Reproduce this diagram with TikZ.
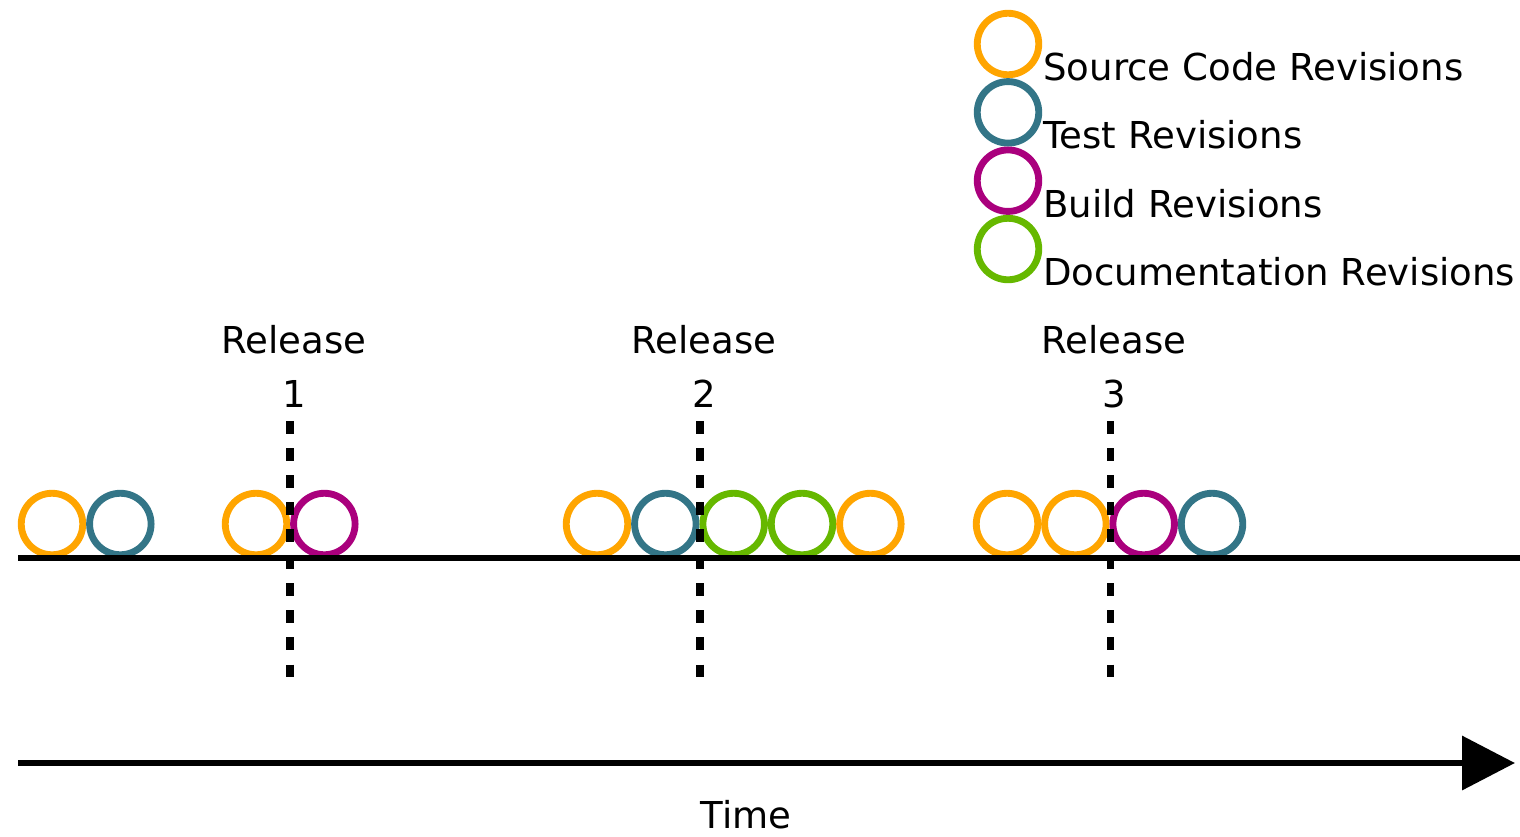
\documentclass[tikz,border=0pt]{standalone}
\usepackage{fontspec}
\setmainfont{DejaVu Sans}
\usetikzlibrary{arrows.meta,positioning}
\definecolor{revsrc}{RGB}{255,165,0}
\definecolor{revtest}{RGB}{51,117,135}
\definecolor{revbuild}{RGB}{170,0,125}
\definecolor{revdoc}{RGB}{102,184,0}
\tikzset{rev/.style={circle,draw=#1,line width=3.9pt,minimum size=1.23cm,inner sep=0pt},
  axis/.style={line width=3.9pt,black},
  release/.style={line width=4pt,dash pattern=on 7.2pt off 8.2pt},
  labeltext/.style={font=\fontsize{21.1}{30.6}\selectfont,align=center,inner sep=0pt}}

\begin{document}
\begin{tikzpicture}[x=0.02cm,y=-0.02cm]
\useasboundingbox (0,0) rectangle (1520,836);
% revisions before release 1
\node[rev=revsrc] (a1) at (52,524) {};
\node[rev=revtest,right=0pt of a1] (a2) {};
\node[rev=revsrc] (b1) at (256,524) {};
\node[rev=revbuild,right=0pt of b1] (b2) {};
% around release 2
\node[rev=revsrc] (c1) at (597,524) {};
\node[rev=revtest,right=0pt of c1] (c2) {};
\node[rev=revdoc,right=0pt of c2] (c3) {};
\node[rev=revdoc,right=0pt of c3] (c4) {};
\node[rev=revsrc,right=0pt of c4] (c5) {};
% around release 3
\node[rev=revsrc] (d1) at (1007,524) {};
\node[rev=revsrc,right=0pt of d1] (d2) {};
\node[rev=revbuild,right=0pt of d2] (d3) {};
\node[rev=revtest,right=0pt of d3] (d4) {};
% legend
\node[rev=revsrc] (lsrc) at (1008,44) {};
\node[rev=revtest,below=0pt of lsrc] (ltest) {};
\node[rev=revbuild,below=0pt of ltest] (lbuild) {};
\node[rev=revdoc,below=0pt of lbuild] (ldoc) {};
\node[labeltext,anchor=base west] (tsrc) at (1043,80) {Source Code Revisions};
\node[labeltext,anchor=base west] (ttest) at (1043,148) {Test Revisions};
\node[labeltext,anchor=base west] (tbuild) at (1043,217) {Build Revisions};
\node[labeltext,anchor=base west] (tdoc) at (1043,285) {Documentation Revisions};
% timeline
\coordinate (tl0) at (18,558);
\coordinate (tl1) at (1520,558);
\draw[axis] (tl0) -- (tl1);
% releases
\foreach \n/\x in {1/290,2/700,3/1110} {
  \node[labeltext,anchor=base] (rel\n) at (\x+4,407) {Release\\\n};
  \coordinate (rel\n top) at (\x,421);
  \coordinate (rel\n bot) at (\x,681);
  \draw[release] (rel\n top) -- (rel\n bot);
}
% time arrow
\coordinate (t0) at (18,763);
\coordinate (t1) at (1515,763);
\draw[axis,-{Triangle[length=1.06cm,width=1.06cm]}] (t0) -- (t1);
\node[labeltext,anchor=base] (time) at (746,828) {Time};
\end{tikzpicture}
\end{document}
